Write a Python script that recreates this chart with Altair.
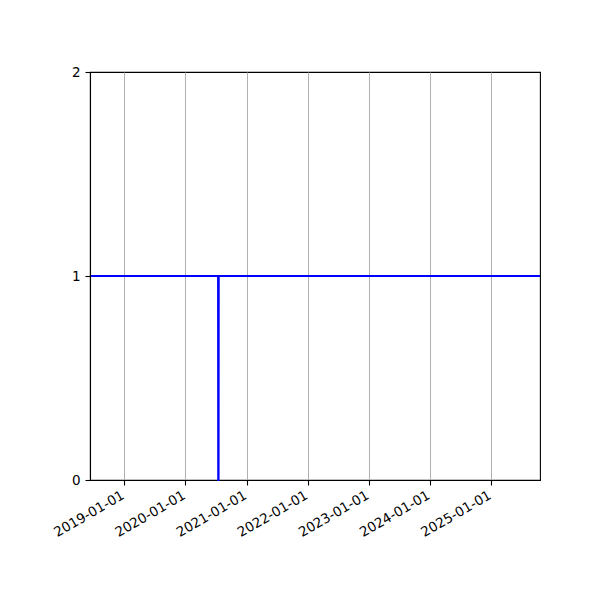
import altair as alt
import pandas as pd

dates = ["2018-06-10", "2020-07-14", "2020-07-15", "2020-07-17", "2020-07-18", "2025-10-19"]
values = [1, 1, 0, 0, 1, 1]
tick_dates = ["2019-01-01", "2020-01-01", "2021-01-01", "2022-01-01",
              "2023-01-01", "2024-01-01", "2025-01-01"]
y_ticks = [0.0, 1.0, 2.0]
x_range = ["2018-06-10", "2025-10-19"]

def ms(s):
    return int(pd.Timestamp(s, tz="UTC").timestamp() * 1000)

df = pd.DataFrame({"t": [ms(d) for d in dates], "v": values})

x_axis = alt.Axis(
    values=[ms(d) for d in tick_dates],
    labelExpr="utcFormat(datum.value, '%Y-%m-%d')",
    labelAngle=-30, labelAlign="right", labelBaseline="top",
    labelFont="DejaVu Sans", labelFontSize=13.5, labelColor="black",
    labelPadding=3, labelOffset=-5, labelOverlap=False, labelBound=False, labelFlush=False,
    tickColor="black", tickSize=5, tickWidth=1.1,
    domainColor="black", domainWidth=1.1,
    grid=True, gridColor="#b0b0b0", gridWidth=1,
    title=None,
)
y_axis = alt.Axis(
    values=y_ticks,
    labelExpr="format(datum.value, 'd')",
    labelFont="DejaVu Sans", labelFontSize=13.5, labelColor="black",
    labelPadding=5, labelOverlap=False, labelFlush=False, labelBound=False,
    tickColor="black", tickSize=5, tickWidth=1.1,
    domainColor="black", domainWidth=1.1,
    grid=False, title=None, zindex=1,
)

chart = alt.Chart(df).mark_line(color="#0000ff", strokeWidth=2, interpolate="linear").encode(
    x=alt.X("t:Q", scale=alt.Scale(domain=[ms(x_range[0]), ms(x_range[1])], nice=False, zero=False), axis=x_axis),
    y=alt.Y("v:Q", scale=alt.Scale(domain=[0, 2], nice=False), axis=y_axis),
).properties(
    width=450, height=408,
    padding={"left": 82, "top": 64, "right": 50, "bottom": 100},
    autosize=alt.AutoSizeParams(type="none"),
).configure(
    background="white",
    view=alt.ViewConfig(stroke="black", strokeWidth=1.1),
)

chart.save("out.html", embed_options={"renderer": "svg", "actions": False})
